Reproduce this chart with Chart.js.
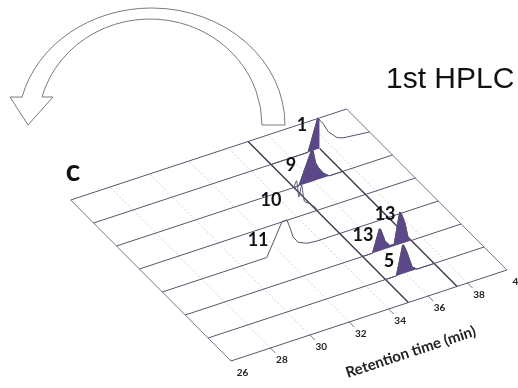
<!DOCTYPE html>
<html>
<head>
<meta charset="utf-8">
<script src="https://cdn.jsdelivr.net/npm/chart.js@4.4.1/dist/chart.umd.min.js"></script>
<style>
  html, body { margin: 0; padding: 0; background: #fff; }
  #wrap { width: 518px; height: 388px; }
</style>
</head>
<body>
<div id="wrap"><canvas id="chart" width="518" height="388"></canvas></div>
<script>
// retention time axis (min)
const timeTicks = [26, 28, 30, 32, 34, 36, 38, 40];
const gridTimes = [28, 30, 32, 34, 36, 38];
const rowCount = 8;          // chromatograms, row 0 = front
const cutStart = 35;         // collected fraction, start (min)
const cutEnd = 37.47;        // collected fraction, end (min)

// each row: retention time (min) and intensity (% of full scale)
const row0Time = [26, 35, 37.47, 40];
const row0Int  = [0, 0, 0, 0];
const row1Time = [26, 35, 35.55, 35.87, 35.93, 36.1, 36.35, 36.6, 37.47, 40];
const row1Int  = [0, 0, 0, 90, 88, 61, 12, 0, 0, 0];
const row2Time = [26, 35, 35.5, 35.85, 35.92, 36.14, 36.39, 36.6, 36.88, 36.95, 37.15, 37.3, 37.47, 40];
const row2Int  = [0, 0, 0, 69, 66, 25, 6, 6, 100, 97, 61, 14, 0, 0];
const row3Time = [26, 31.3, 32.07, 32.32, 32.48, 32.63, 32.88, 33.34, 33.85, 35, 37.47, 40];
const row3Int  = [0, 0, 96, 97, 69, 38, 16, 3, 0, 0, 0, 0];
const row4Time = [26, 35, 37.47, 40];
const row4Int  = [0, 0, 0, 0];
const row5Time = [26, 35, 35.25, 35.9, 35.97, 36.1, 36.25, 36.5, 36.8, 37.47, 40];
const row5Int  = [0, 0, 0, 100, 96, 55, 36, 14, 0, 0, 0];
const row6Time = [26, 35, 36.88, 37.37, 37.42, 37.47, 37.64, 37.9, 38.35, 38.65, 40];
const row6Int  = [0, 0, 0, 97, 94, 88, 75, 44, 16, 9, 0];
const row7Time = [26, 35, 37.47, 40];
const row7Int  = [0, 0, 0, 0];

// trace 10 steps down at the cut with a small double wiggle
const wiggleRow = [5, 4.88, 4.78, 4.66, 4.54, 4.3, 4];
const wiggleInt = [0, 30, -14, 32, -10, 0, 6];

// peak names, anchored at (time, row, intensity)
const labelText = ["1", "9", "10", "11", "13", "13", "5"];
const labelTime = [36.57, 34.85, 33.84, 30.86, 36.14, 35.02, 35.18];
const labelRow  = [6, 5, 5, 3, 2, 2, 1];
const labelInt  = [91, 73, -16, 62, 109, 66, 53];

const rowTimes = [row0Time, row1Time, row2Time, row3Time, row4Time, row5Time, row6Time, row7Time];
const rowInts  = [row0Int, row1Int, row2Int, row3Int, row4Int, row5Int, row6Int, row7Int];

// oblique projection of (time, row, intensity) onto the flat chart plane
const T0 = 26;
function toXY(t, k, v) {
  return {
    x: (t - T0) - 1.162 * k,
    y: 0.3298 * (t - T0) + 1.167 * k + v * 0.01624
  };
}

const ROW_COLOR = "#57546c";
const CUT_COLOR = "#3b384b";
const FILL_COLOR = "#5c4789";
const datasets = [];

// fractions (filled area between trace and its baseline)
rowTimes.forEach((times, k) => {
  const idx = times.map((t, i) => i).filter(i => times[i] >= cutStart && times[i] <= cutEnd);
  if (!idx.some(i => rowInts[k][i] > 0)) return;
  datasets.push({
    data: idx.map(i => toXY(times[i], k, rowInts[k][i])),
    borderColor: ROW_COLOR, borderWidth: 1,
    backgroundColor: FILL_COLOR, fill: "+1", order: 1
  });
  datasets.push({
    data: idx.map(i => toXY(times[i], k, 0)),
    borderColor: "rgba(0,0,0,0)", borderWidth: 1, fill: false, order: 1
  });
});

// wiggle of trace 10
datasets.push({
  data: wiggleRow.map((k, i) => toXY(cutStart, k, wiggleInt[i])),
  borderColor: ROW_COLOR, borderWidth: 1, fill: false, order: 2, tension: 0.2
});

// cut lines
datasets.push({
  data: [toXY(cutStart, 0, 0), toXY(cutStart, rowCount - 1, 0)],
  borderColor: CUT_COLOR, borderWidth: 1.4, fill: false, order: 3
});
datasets.push({
  data: [toXY(cutEnd, 0, 0), toXY(cutEnd, rowCount - 2, 0)],
  borderColor: CUT_COLOR, borderWidth: 1.4, fill: false, order: 3
});

// chromatogram rows
rowTimes.forEach((times, k) => {
  datasets.push({
    data: times.map((t, i) => toXY(t, k, rowInts[k][i])),
    borderColor: ROW_COLOR, borderWidth: 1, fill: false, order: 4
  });
});

// floor edges and ticks
[timeTicks[0], timeTicks[timeTicks.length - 1]].forEach(t => {
  datasets.push({
    data: [toXY(t, 0, 0), toXY(t, rowCount - 1, 0)],
    borderColor: "#76738a", borderWidth: 1, fill: false, order: 5
  });
});
gridTimes.forEach(t => {
  datasets.push({
    data: [toXY(t, 0, 0), toXY(t, -0.22, 0)],
    borderColor: "#76738a", borderWidth: 1, fill: false, order: 5
  });
  datasets.push({
    data: [toXY(t, 0, 0), toXY(t, rowCount - 1, 0)],
    borderColor: "#d0d0d6", borderWidth: 1, borderDash: [2, 2], fill: false, order: 6
  });
});

const decor = {
  id: "decor",
  afterDraw(chart) {
    const { ctx, scales } = chart;
    const pix = p => [scales.x.getPixelForValue(p.x), scales.y.getPixelForValue(p.y)];
    ctx.save();
    ctx.fillStyle = "#222";
    ctx.textAlign = "center";
    ctx.textBaseline = "middle";

    // tick labels
    ctx.font = "bold 10px Lato";
    timeTicks.forEach(t => {
      const [px, py] = pix(toXY(t, -0.5, 0));
      ctx.fillText(String(t), px, py);
    });

    // axis title along the time axis
    const [ax, ay] = pix(toXY(26, 0, 0));
    const [bx, by] = pix(toXY(40, 0, 0));
    const [tx, ty] = pix(toXY(33.2, -1.65, 0));
    ctx.save();
    ctx.translate(tx, ty);
    ctx.rotate(Math.atan2(by - ay, bx - ax));
    ctx.font = "bold 15px Lato";
    ctx.fillText("Retention time (min)", 0, 0);
    ctx.restore();

    // peak names
    ctx.font = "bold 18px Lato";
    ctx.fillStyle = "#111";
    labelText.forEach((s, i) => {
      const [px, py] = pix(toXY(labelTime[i], labelRow[i], labelInt[i]));
      ctx.fillText(s, px, py);
    });

    // panel letter and title
    ctx.font = "bold 30px Lato";
    ctx.fillText("c", 73, 171);
    ctx.textAlign = "left";
    ctx.textBaseline = "alphabetic";
    ctx.font = "30px 'Liberation Sans'";
    ctx.fillText("1st HPLC", 386, 88);

    // curved open arrow
    ctx.beginPath();
    ctx.ellipse(151.6, 125, 133.4, 117, 0, 0, -2.9008, true);
    ctx.lineTo(10, 97);
    ctx.lineTo(28, 125);
    ctx.lineTo(53, 97);
    ctx.lineTo(42, 97);
    ctx.ellipse(150, 125, 112, 106, 0, -2.8744, 0, false);
    ctx.closePath();
    ctx.strokeStyle = "#7a7a7a";
    ctx.lineWidth = 1;
    ctx.stroke();
    ctx.restore();
  }
};

new Chart(document.getElementById("chart"), {
  type: "line",
  data: { datasets: datasets },
  options: {
    responsive: false,
    devicePixelRatio: 1,
    animation: false,
    events: [],
    layout: { padding: 0 },
    elements: { point: { radius: 0 }, line: { tension: 0 } },
    plugins: { legend: { display: false }, tooltip: { enabled: false } },
    scales: {
      x: { type: "linear", display: false, min: -11.72, max: 14.56 },
      y: { type: "linear", display: false, min: -1.37, max: 18.316 }
    }
  },
  plugins: [decor]
});
</script>
</body>
</html>
